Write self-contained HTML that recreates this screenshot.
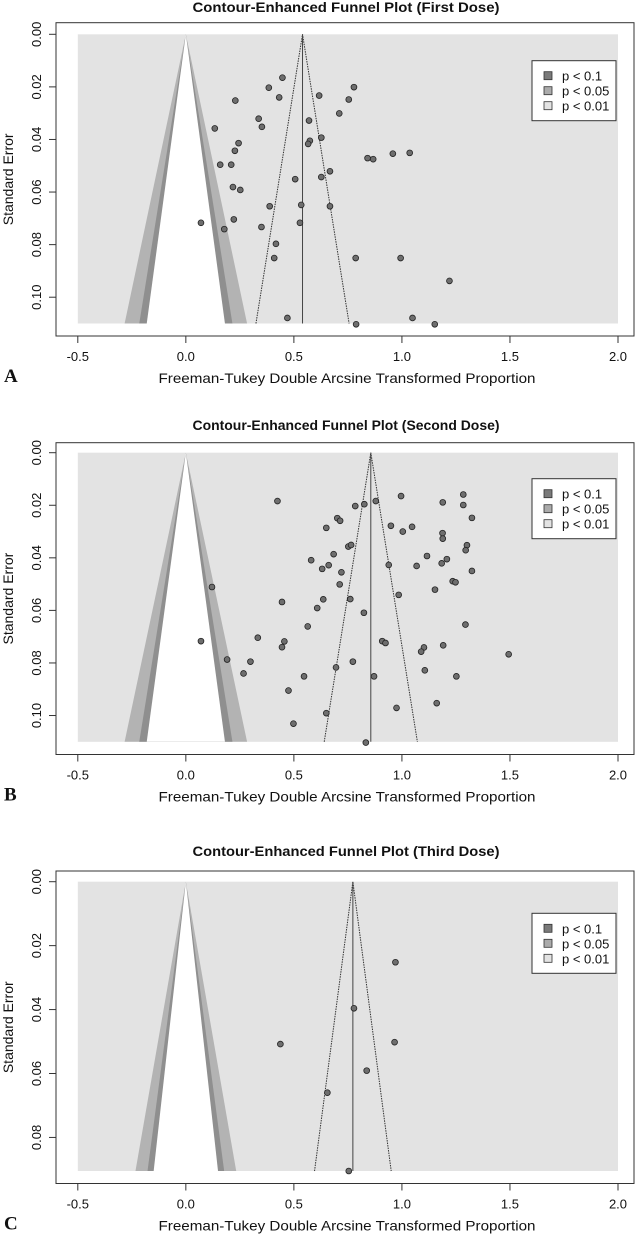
<!DOCTYPE html>
<html><head><meta charset="utf-8"><style>
html,body{margin:0;padding:0;background:#fff;}
svg{display:block;font-family:"Liberation Sans",sans-serif;}
</style></head><body>
<svg id="fig" width="641" height="1240" viewBox="0 0 641 1240" xmlns="http://www.w3.org/2000/svg"></svg>
<script>
// ---------- data ----------
const panelTitles = ["Contour-Enhanced Funnel Plot (First Dose)","Contour-Enhanced Funnel Plot (Second Dose)","Contour-Enhanced Funnel Plot (Third Dose)"];
const panelLetters = ["A","B","C"];
const xTicks = [-0.5,0,0.5,1.0,1.5,2.0];
const xTickLabels = ["-0.5","0.0","0.5","1.0","1.5","2.0"];
const yTicksAB = [0,0.02,0.04,0.06,0.08,0.10];
const yTickLabelsAB = ["0.00","0.02","0.04","0.06","0.08","0.10"];
const yTicksC = [0,0.02,0.04,0.06,0.08];
const yTickLabelsC = ["0.00","0.02","0.04","0.06","0.08"];
const pooledEstimates = [0.54,0.856,0.773];
const seMaxes = [0.11,0.11,0.0905];
const legendLabels = ["p < 0.1","p < 0.05","p < 0.01"];

const aX = [0.447,0.384,0.778,0.432,0.229,0.617,0.754,0.710,0.337,0.352,0.570,0.134,0.627,0.574,0.566,0.244,0.227,0.841,0.867,0.958,1.036,0.159,0.210,0.667,0.627,0.506,0.218,0.252,0.388,0.534,0.667,0.222,0.070,0.528,0.178,0.350,0.417,0.409,0.786,0.994,1.220,0.470,0.788,1.049,1.152];
const aSE = [0.0165,0.0203,0.0201,0.0240,0.0252,0.0233,0.0248,0.0301,0.0321,0.0352,0.0328,0.0358,0.0393,0.0405,0.0417,0.0414,0.0443,0.0471,0.0475,0.0454,0.0451,0.0496,0.0496,0.0521,0.0543,0.0551,0.0581,0.0592,0.0654,0.0649,0.0654,0.0704,0.0717,0.0717,0.0741,0.0733,0.0797,0.0851,0.0851,0.0851,0.0938,0.1079,0.1103,0.1079,0.1103];

const bX = [0.424,0.784,0.826,0.879,0.996,1.189,1.284,1.284,1.324,0.701,0.714,0.650,0.949,1.047,1.004,1.188,1.189,1.301,1.295,0.752,0.765,0.684,0.580,1.116,1.208,1.184,0.661,0.631,0.939,1.068,0.720,1.324,1.235,1.248,0.712,0.121,1.153,0.985,0.636,0.761,0.445,0.608,0.824,0.564,1.294,0.333,0.070,0.456,0.909,0.924,0.445,1.102,1.089,1.191,1.494,0.191,0.299,0.773,0.695,1.106,0.267,0.547,0.871,1.252,0.475,1.161,0.975,0.650,0.498,0.833];
const bSE = [0.0184,0.0203,0.0196,0.0184,0.0165,0.0189,0.0159,0.0199,0.0248,0.0249,0.0259,0.0286,0.0278,0.0282,0.0300,0.0306,0.0327,0.0352,0.0371,0.0357,0.0351,0.0386,0.0409,0.0393,0.0405,0.0421,0.0428,0.0442,0.0427,0.0431,0.0455,0.0450,0.0489,0.0493,0.0501,0.0511,0.0521,0.0541,0.0558,0.0557,0.0568,0.0591,0.0609,0.0661,0.0654,0.0704,0.0717,0.0718,0.0717,0.0724,0.0740,0.0741,0.0757,0.0733,0.0767,0.0787,0.0795,0.0795,0.0817,0.0828,0.0840,0.0851,0.0851,0.0851,0.0905,0.0953,0.0971,0.0991,0.1031,0.1103];

const cX = [0.970,0.778,0.966,0.4375,0.837,0.655,0.754];
const cSE = [0.0252,0.0396,0.0502,0.0508,0.0591,0.0660,0.0905];

// ---------- drawing ----------
const NS = "http://www.w3.org/2000/svg";
const svg = document.getElementById("fig");
function mk(tag, attrs, parent){
  const e = document.createElementNS(NS, tag);
  for (const k in attrs) e.setAttribute(k, attrs[k]);
  (parent||svg).appendChild(e);
  return e;
}
const xData = [aX,bX,cX], seData = [aSE,bSE,cSE];
const yTickSets = [yTicksAB,yTicksAB,yTicksC], yTickLabelSets = [yTickLabelsAB,yTickLabelsAB,yTickLabelsC];
const layout = [
  {y0:34.3, y1:323.5, boxT:22.7, boxB:336, titleY:12, legT:60.7},
  {y0:452.7, y1:741.8, boxT:442.7, boxB:754.5, titleY:430, legT:478.7},
  {y0:881.7, y1:1171, boxT:871, boxB:1183.5, titleY:856, legT:913.3}
];
const xL = 77.8, xR = 618;
function xs(v){ return xL + (v + 0.5) * (xR - xL) / 2.5; }

for (let p = 0; p < 3; p++) {
  const L = layout[p], seMax = seMaxes[p];
  const ys = v => L.y0 + v * (L.y1 - L.y0) / seMax;
  const g = mk("g", {});
  
  

  const t = mk("text", {x: 346, y: L.titleY, "text-anchor":"middle", "font-size":"13.5", "font-weight":"bold", fill:"#111", textLength:"307", lengthAdjust:"spacingAndGlyphs"}, g);
  t.textContent = panelTitles[p];
  
  

  const bg = mk("rect", {x: xs(-0.5), y: ys(0), width: xs(2.0) - xs(-0.5), height: ys(seMax) - ys(0), fill: "#e3e3e3"}, g);
  
  

  const zs = [2.576, 1.96, 1.645];
  const cols = ["#b3b3b3", "#8f8f8f", "#ffffff"];
  for (let k = 0; k < 3; k++) {
    const z = zs[k];
    const pts = [[xs(0), ys(0)], [xs(-z * seMax), ys(seMax)], [xs(z * seMax), ys(seMax)]];
    const poly = mk("polygon", {points: pts.map(q => q.join(",")).join(" "), fill: cols[k]}, g);
    
    
  }
  const est = pooledEstimates[p];
  const fun = mk("polyline", {points: [xs(est - 1.96 * seMax) + "," + ys(seMax), xs(est) + "," + ys(0), xs(est + 1.96 * seMax) + "," + ys(seMax)].join(" "), fill: "none", stroke: "#333", "stroke-width": "1", "stroke-dasharray": "1.5,1"}, g);
  
  
  const cl = mk("line", {x1: xs(est), x2: xs(est), y1: ys(0), y2: ys(seMax), stroke: "#444", "stroke-width": "1"}, g);
  
  

  const xsArr = xData[p], seArr = seData[p];
  for (let i = 0; i < xsArr.length; i++) {
    const c = mk("circle", {cx: xs(xsArr[i]), cy: ys(seArr[i]), r: 2.9, fill: "#6e6e6e", stroke: "#222", "stroke-width": "0.8"}, g);
    
    
  }

  const box = mk("rect", {x: 56, y: L.boxT, width: 578, height: L.boxB - L.boxT, fill: "none", stroke: "#333", "stroke-width": "1"}, g);
  
  

  const xa = mk("line", {x1: xs(-0.5), x2: xs(2.0), y1: L.boxB, y2: L.boxB, stroke: "#333"}, g);
  
  
  for (let i = 0; i < xTicks.length; i++) {
    const tk = mk("line", {x1: xs(xTicks[i]), x2: xs(xTicks[i]), y1: L.boxB, y2: L.boxB + 7, stroke: "#333"}, g);
    
    
    const tl = mk("text", {x: xs(xTicks[i]), y: L.boxB + 25, "text-anchor": "middle", "font-size": "13", fill: "#111"}, g);
    tl.textContent = xTickLabels[i];
    
    
  }
  const xt = mk("text", {x: 347, y: L.boxB + 47, "text-anchor": "middle", "font-size": "14", fill: "#111", textLength: "377", lengthAdjust: "spacingAndGlyphs"}, g);
  xt.textContent = "Freeman-Tukey Double Arcsine Transformed Proportion";
  
  
  const lt = mk("text", {x: 4, y: L.boxB + 46, "font-size": "19", "font-weight": "bold", "font-family": "Liberation Serif, serif", fill: "#111"}, g);
  lt.textContent = panelLetters[p];
  
  

  const yt = yTickSets[p], ytl = yTickLabelSets[p];
  const ya = mk("line", {x1: 56, x2: 56, y1: ys(yt[0]), y2: ys(yt[yt.length - 1]), stroke: "#333"}, g);
  
  
  for (let i = 0; i < yt.length; i++) {
    const yy = ys(yt[i]);
    const tk = mk("line", {x1: 49, x2: 56, y1: yy, y2: yy, stroke: "#333"}, g);
    
    
    const tl = mk("text", {x: 0, y: 0, transform: "translate(41," + yy + ") rotate(-90)", "text-anchor": "middle", "font-size": "13", fill: "#111"}, g);
    tl.textContent = ytl[i];
    
    
  }
  const ylab = mk("text", {x: 0, y: 0, transform: "translate(13," + ((L.boxT + L.boxB) / 2) + ") rotate(-90)", "text-anchor": "middle", "font-size": "14", fill: "#111"}, g);
  ylab.textContent = "Standard Error";
  
  

  const lg = mk("g", {}, g);
  
  
  mk("rect", {x: 532, y: L.legT, width: 84, height: 60, fill: "#fff", stroke: "#333", "stroke-width": "1"}, lg);
  const lcols = ["#7a7a7a", "#ababab", "#e3e3e3"];
  for (let k = 0; k < 3; k++) {
    const ry = L.legT + 15 + k * 15;
    const sq = mk("rect", {x: 544, y: ry - 4, width: 8, height: 8, fill: lcols[k], stroke: "#333", "stroke-width": "0.8"}, lg);
    
    
    const tx = mk("text", {x: 562, y: ry + 5, "font-size": "13", fill: "#111"}, lg);
    tx.textContent = legendLabels[k];
    
    
  }
}
</script>
</body></html>
